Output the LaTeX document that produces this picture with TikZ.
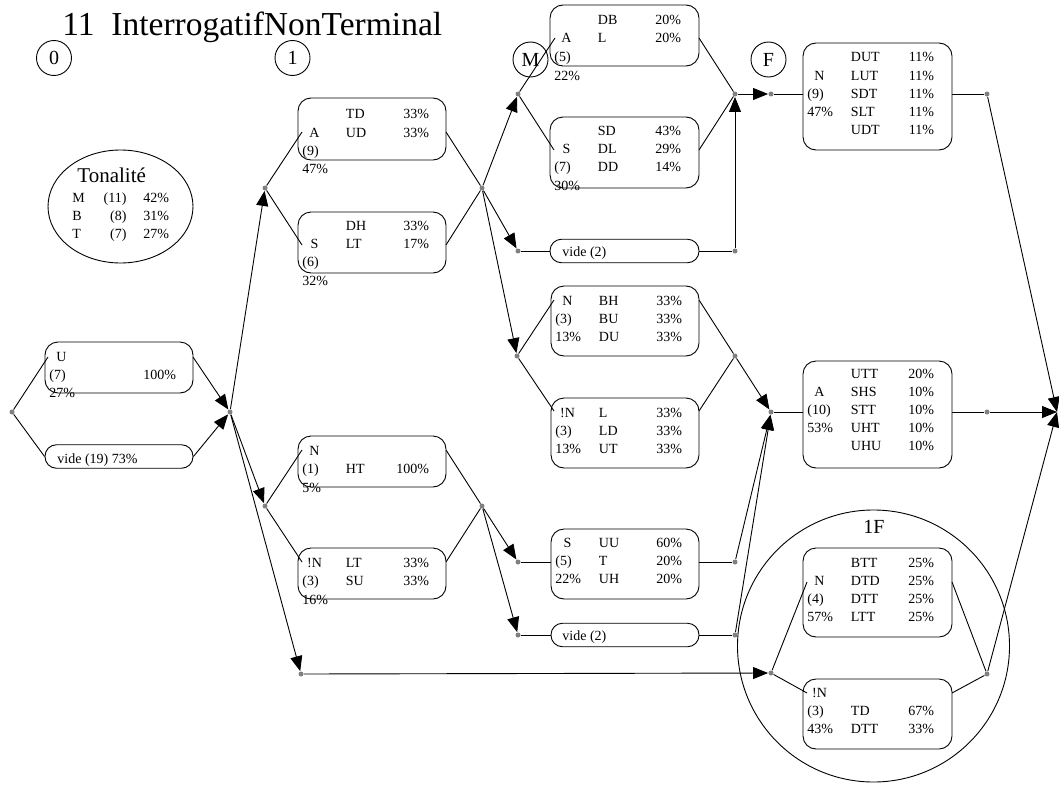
\documentclass[tikz,border=0pt]{standalone}
\usepackage{fontspec}
\setmainfont{Liberation Serif}
\usetikzlibrary{arrows.meta,shapes.geometric}
\newcommand\bfs{\fontsize{14}{16}\selectfont}
\newcommand\brL[6]{%
 \node[tx,anchor=base] (#1a) at (#2+16.5,#3) {#4};
 \node[tx,anchor=base west] (#1b) at (#2+47.5,#3) {#5};
 \node[tx,anchor=base east] (#1c) at (#2+131.5,#3) {#6};}
\newcommand\brN[6]{%
 \node[tx,anchor=base west] (#1a) at (#2+4,#3) {#4};
 \node[tx,anchor=base west] (#1b) at (#2+47.5,#3) {#5};
 \node[tx,anchor=base east] (#1c) at (#2+131.5,#3) {#6};}
\begin{document}
\begin{tikzpicture}[x=1pt,y=-1pt,line width=0.9pt,
 box/.style={draw,rounded corners=13pt,minimum width=148pt,inner sep=0},
 pill/.style={draw,rounded corners=11.5pt,minimum width=148pt,minimum height=23.5pt,inner sep=0},
 dot/.style={circle,fill=gray,inner sep=0,minimum size=5pt},
 tx/.style={inner sep=0,font=\bfs},
 arr/.style={-{Triangle[length=15pt,width=12pt]}},
 lab/.style={draw,circle,minimum size=35pt,inner sep=0,font=\fontsize{20}{22}\selectfont}]
\useasboundingbox (0,0) rectangle (1059,792);
% title and labels
\node[inner sep=0,anchor=base west,font=\fontsize{33.5}{36}\selectfont] (title) at (62,36) {11\ \ InterrogatifNonTerminal};
\node[lab] (l0) at (54,58) {0};
\node[lab] (l1) at (292.5,58) {1};
\node[lab] (lM) at (530.5,59.5) {M};
\node[lab] (lF) at (768.5,59.5) {F};
% tonalite
\node[draw,ellipse,minimum width=145pt,minimum height=113pt,inner sep=0] (ton) at (120.5,206.5) {};
\node[inner sep=0,anchor=base west,font=\fontsize{21}{24}\selectfont] (tont) at (77,182) {Tonalité};
\node[tx,anchor=base west] (tm1) at (72,202) {M};
\node[tx,anchor=base east] (tm2) at (127,202) {(11)};
\node[tx,anchor=base west] (tm3) at (143,202) {42\%};
\node[tx,anchor=base west] (tb1) at (72,220) {B};
\node[tx,anchor=base east] (tb2) at (127,220) {(8)};
\node[tx,anchor=base west] (tb3) at (143,220) {31\%};
\node[tx,anchor=base west] (tt1) at (72,238) {T};
\node[tx,anchor=base east] (tt2) at (127,238) {(7)};
\node[tx,anchor=base west] (tt3) at (143,238) {27\%};
% 1F circle
\node[draw,circle,minimum size=272pt,inner sep=0] (c1F) at (873.5,646) {};
\node[inner sep=0,anchor=base,font=\fontsize{20}{22}\selectfont] (c1Ft) at (874,533) {1F};
% boxes
\node[box,minimum height=51pt] (bU) at (119,367.5) {};
\node[pill] (bV) at (119,456.5) {};
\node[box,minimum height=62pt] (bA) at (372,129) {};
\node[box,minimum height=61pt] (bS) at (372,242.5) {};
\node[box,minimum height=51pt] (bN1) at (372,461.5) {};
\node[box,minimum height=51pt] (bNN) at (372,573.5) {};
\node[box,minimum width=149pt,minimum height=61pt] (mA) at (624.5,35.5) {};
\node[box,minimum width=149pt,minimum height=71pt] (mS) at (624.5,152.5) {};
\node[pill,minimum width=149pt] (mV) at (624.5,251) {};
\node[box,minimum height=70pt] (mN) at (625,321) {};
\node[box,minimum height=70pt] (mM) at (625,433) {};
\node[box,minimum height=70pt] (mT) at (625,564) {};
\node[pill] (mV2) at (625,635) {};
\node[box,minimum width=149pt,minimum height=107pt] (fN) at (877.5,96.5) {};
\node[box,minimum width=149pt,minimum height=107pt] (fA) at (877.5,414.5) {};
\node[box,minimum width=149pt,minimum height=89pt] (gN) at (877.5,592.5) {};
\node[box,minimum width=149pt,minimum height=70pt] (gM) at (877.5,714) {};
% texts
\brL{u1}{45}{361}{U}{}{}
\brN{u2}{45}{379}{(7)}{}{100\%}
\brN{u3}{45}{397}{27\%}{}{}
\node[tx,anchor=base west] (vt) at (57,463) {vide (19) 73\%};
\brL{a1}{298}{118}{}{TD}{33\%}
\brL{a2}{298}{137}{A}{UD}{33\%}
\brN{a3}{298}{155}{(9)}{}{}
\brN{a4}{298}{173}{47\%}{}{}
\brL{s1}{298}{230}{}{DH}{33\%}
\brL{s2}{298}{248}{S}{LT}{17\%}
\brN{s3}{298}{266}{(6)}{}{}
\brN{s4}{298}{285}{32\%}{}{}
\brL{n1}{298}{455}{N}{}{}
\brN{n2}{298}{473}{(1)}{HT}{100\%}
\brN{n3}{298}{492}{5\%}{}{}
\brL{nn1}{298}{567}{!N}{LT}{33\%}
\brN{nn2}{298}{585}{(3)}{SU}{33\%}
\brN{nn3}{298}{604}{16\%}{}{}
\brL{ma1}{550}{25}{}{DB}{20\%}
\brL{ma2}{550}{43}{A}{L}{20\%}
\brN{ma3}{550}{61}{(5)}{}{}
\brN{ma4}{550}{80}{22\%}{}{}
\brL{ms1}{550}{135}{}{SD}{43\%}
\brL{ms2}{550}{153}{S}{DL}{29\%}
\brN{ms3}{550}{171}{(7)}{DD}{14\%}
\brN{ms4}{550}{190}{30\%}{}{}
\node[tx,anchor=base west] (mvt) at (562,256.5) {vide (2)};
\brL{mn1}{551}{305}{N}{BH}{33\%}
\brN{mn2}{551}{323}{(3)}{BU}{33\%}
\brN{mn3}{551}{341}{13\%}{DU}{33\%}
\brL{mm1}{551}{417}{!N}{L}{33\%}
\brN{mm2}{551}{435}{(3)}{LD}{33\%}
\brN{mm3}{551}{453}{13\%}{UT}{33\%}
\brL{mt1}{551}{547}{S}{UU}{60\%}
\brN{mt2}{551}{565}{(5)}{T}{20\%}
\brN{mt3}{551}{583}{22\%}{UH}{20\%}
\node[tx,anchor=base west] (mv2t) at (562,640.5) {vide (2)};
\brL{f1}{803}{62}{}{DUT}{11\%}
\brL{f2}{803}{80}{N}{LUT}{11\%}
\brN{f3}{803}{98}{(9)}{SDT}{11\%}
\brN{f4}{803}{116}{47\%}{SLT}{11\%}
\brN{f5}{803}{134}{}{UDT}{11\%}
\brL{g1}{803}{378}{}{UTT}{20\%}
\brL{g2}{803}{396}{A}{SHS}{10\%}
\brN{g3}{803}{414}{(10)}{STT}{10\%}
\brN{g4}{803}{432}{53\%}{UHT}{10\%}
\brN{g5}{803}{450}{}{UHU}{10\%}
\brL{h1}{803}{567}{}{BTT}{25\%}
\brL{h2}{803}{585}{N}{DTD}{25\%}
\brN{h3}{803}{603}{(4)}{DTT}{25\%}
\brN{h4}{803}{621}{57\%}{LTT}{25\%}
\brL{k1}{803}{697}{!N}{}{}
\brN{k2}{803}{715}{(3)}{TD}{67\%}
\brN{k3}{803}{733}{43\%}{DTT}{33\%}
% ports
\coordinate (pUl) at (48,357); \coordinate (pUr) at (193,357);
\coordinate (pAl) at (302,132); \coordinate (pAr) at (446,132);
\coordinate (pSl) at (302,245); \coordinate (pSr) at (446,245);
\coordinate (pN1l) at (302,450); \coordinate (pN1r) at (446,450);
\coordinate (pNNl) at (302,562); \coordinate (pNNr) at (446,562);
\coordinate (pmAl) at (555,38); \coordinate (pmAr) at (699,38);
\coordinate (pmSl) at (554,150); \coordinate (pmSr) at (699,150);
\coordinate (pmNl) at (554,300); \coordinate (pmNr) at (699,300);
\coordinate (pmMl) at (554,411); \coordinate (pmMr) at (699,411);
\coordinate (pmTl) at (551,562); \coordinate (pmTr) at (699,562);
\coordinate (pfNl) at (803,94); \coordinate (pfNr) at (952,94);
\coordinate (pfAl) at (803,412); \coordinate (pfAr) at (952,412);
\coordinate (phl) at (807,582); \coordinate (phr) at (952,582);
\coordinate (pkl) at (807,693); \coordinate (pkr) at (952,693);
\coordinate (fin) at (1057,412);
% dots
\node[dot] (d0) at (12,412) {};
\node[dot] (j0) at (230,412) {};
\node[dot] (dA) at (265,188) {};
\node[dot] (dN) at (265,506) {};
\node[dot] (dL) at (301,674) {};
\node[dot] (jAS) at (482,188) {};
\node[dot] (jNN) at (482,506) {};
\node[dot] (dMA) at (518,94) {};
\node[dot] (dMV) at (518,251) {};
\node[dot] (dMN) at (517,356) {};
\node[dot] (dMS) at (518,562) {};
\node[dot] (dMV2) at (518,635) {};
\node[dot] (jF) at (735,94) {};
\node[dot] (dV1) at (735,251) {};
\node[dot] (jMN) at (735,356) {};
\node[dot] (dMT) at (735,562) {};
\node[dot] (dV2) at (735,635) {};
\node[dot] (dF) at (771,94) {};
\node[dot] (dFA) at (771,412) {};
\node[dot] (d1F) at (771,673) {};
\node[dot] (dFr) at (987,94) {};
\node[dot] (dAr) at (987,412) {};
\node[dot] (d1Fr) at (987,674) {};
% edges
\draw (d0) -- (pUl); \draw (d0) -- (bV.west);
\draw[arr] (pUr) -- (j0); \draw[arr] (bV.east) -- (j0);
\draw[arr] (j0) -- (dA); \draw[arr] (j0) -- (dN); \draw[arr] (j0) -- (dL);
\draw (dA) -- (pAl); \draw (dA) -- (pSl);
\draw (pAr) -- (jAS); \draw (pSr) -- (jAS);
\draw (dN) -- (pN1l); \draw (dN) -- (pNNl);
\draw (pN1r) -- (jNN); \draw (pNNr) -- (jNN);
\draw[arr] (jAS) -- (dMA); \draw[arr] (jAS) -- (dMV); \draw[arr] (jAS) -- (dMN);
\draw[arr] (jNN) -- (dMS); \draw[arr] (jNN) -- (dMV2);
\draw (dMA) -- (pmAl); \draw (dMA) -- (pmSl);
\draw (pmAr) -- (jF); \draw (pmSr) -- (jF);
\draw (dMV) -- (mV.west); \draw (mV.east) -- (dV1); \draw[arr] (dV1) -- (jF);
\draw[arr] (jF) -- (dF); \draw (dF) -- (pfNl); \draw (pfNr) -- (dFr); \draw[arr] (dFr) -- (fin);
\draw (dMN) -- (pmNl); \draw (dMN) -- (pmMl);
\draw (pmNr) -- (jMN); \draw (pmMr) -- (jMN);
\draw[arr] (jMN) -- (dFA);
\draw (dMS) -- (pmTl); \draw (pmTr) -- (dMT); \draw[arr] (dMT) -- (dFA);
\draw (dMV2) -- (mV2.west); \draw (mV2.east) -- (dV2); \draw[arr] (dV2) -- (dFA);
\draw (dFA) -- (pfAl); \draw (pfAr) -- (dAr); \draw[arr] (dAr) -- (fin);
\draw[arr] (dL) -- (d1F);
\draw (d1F) -- (phl); \draw (d1F) -- (pkl);
\draw (phr) -- (d1Fr); \draw (pkr) -- (d1Fr);
\draw[arr] (d1Fr) -- (fin);
\end{tikzpicture}
\end{document}
